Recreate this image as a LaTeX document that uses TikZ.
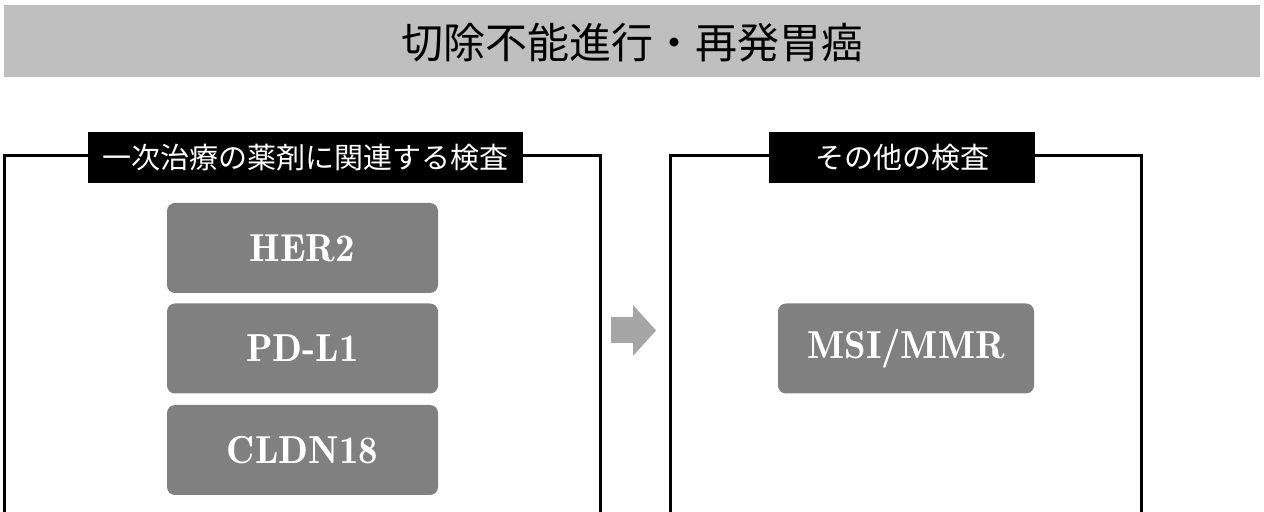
\documentclass[tikz,border=0pt]{standalone}
\usepackage{fontspec}
\newfontfamily\cjk{Noto Sans CJK JP}
\newfontfamily\demi{lmromandemi10-regular.otf}
\definecolor{bandgray}{HTML}{BFBFBF}
\definecolor{boxgray}{HTML}{808080}
\definecolor{arrowgray}{HTML}{A6A6A6}
\tikzset{
  titletext/.style={inner sep=0pt, font=\cjk\fontsize{21pt}{24pt}\selectfont, text=black},
  framebox/.style={draw=black, line width=1.5pt},
  labelbox/.style={fill=black, text=white, inner sep=0pt, minimum height=25.5pt, font=\cjk\fontsize{14.5pt}{18pt}\selectfont},
  testbox/.style={fill=boxgray, text=white, rounded corners=4pt, inner sep=0pt, minimum height=45pt, font=\demi\fontsize{19.5pt}{22pt}\selectfont},
}
\begin{document}
\begin{tikzpicture}[x=0.5pt,y=-0.5pt]
\useasboundingbox (0,0) rectangle (1264,512);
% title band
\fill[bandgray] (4,5) rectangle (1260,77);
\node[titletext] (title) at (632,43) {切除不能進行・再発胃癌};
% frames (open at bottom)
\draw[framebox] (4,520) -- (4,156) -- (600,156) -- (600,520);
\draw[framebox] (670,520) -- (670,156) -- (1141,156) -- (1141,520);
% frame labels
\node[labelbox, minimum width=217.5pt] (lab1) at (305.5,157.5) {一次治療の薬剤に関連する検査};
\node[labelbox, minimum width=133pt] (lab2) at (902,157.5) {その他の検査};
% test boxes
\node[testbox, minimum width=135.5pt] (her2) at (302.5,248) {HER2};
\node[testbox, minimum width=135.5pt] (pdl1) at (302.5,348.5) {PD-L1};
\node[testbox, minimum width=135.5pt] (cldn) at (302.5,450) {CLDN18};
\node[testbox, minimum width=128pt] (msi) at (906,348.5) {MSI/MMR};
% block arrow
\fill[arrowgray] (611,317) -- (633,317) -- (633,305) -- (656,330.5) -- (633,356) -- (633,343) -- (611,343) -- cycle;
\end{tikzpicture}
\end{document}
